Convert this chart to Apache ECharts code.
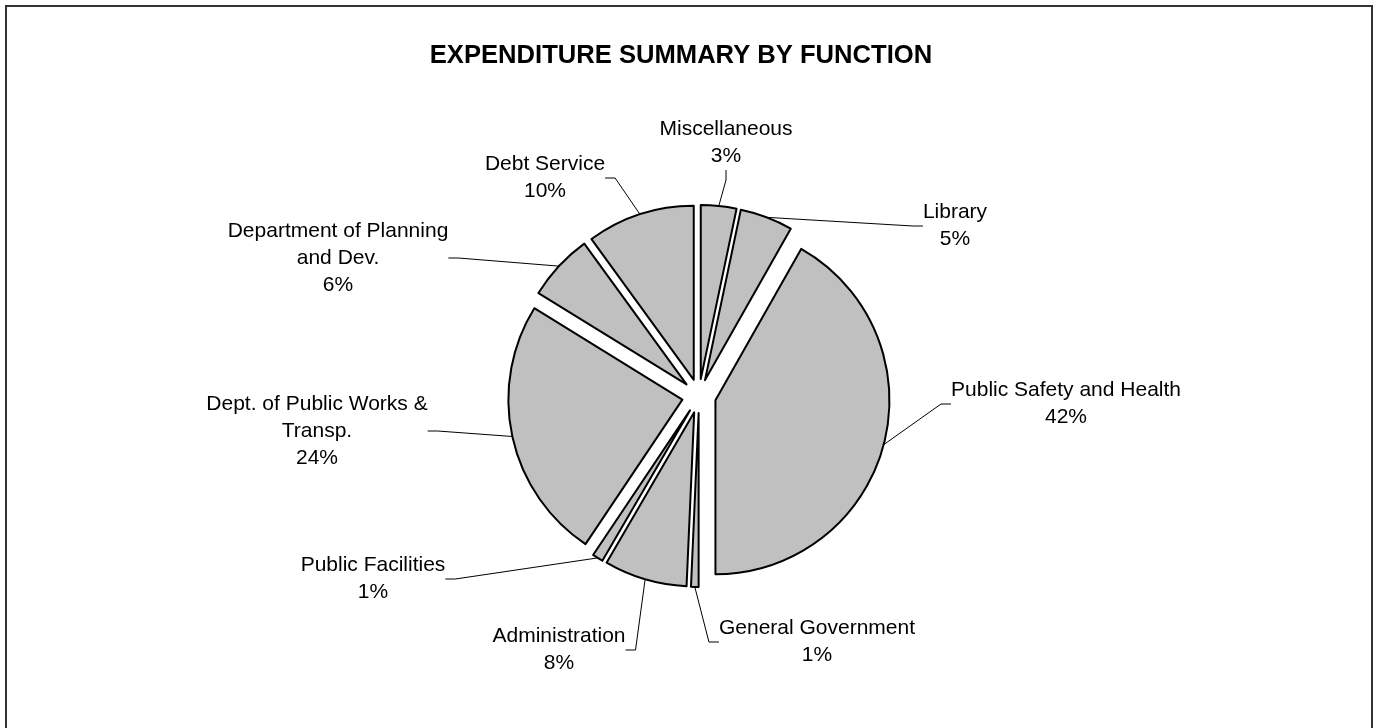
<!DOCTYPE html>
<html>
<head>
<meta charset="utf-8">
<script src="https://cdn.jsdelivr.net/npm/echarts@6/dist/echarts.min.js"></script>
<style>
html,body{margin:0;padding:0;background:#fff;}
#chart{width:1376px;height:728px;}
</style>
</head>
<body>
<div id="chart"></div>
<script>
// Data (clockwise from 12 o'clock)
const categories = [
  'Miscellaneous',
  'Library',
  'Public Safety and Health',
  'General Government',
  'Administration',
  'Public Facilities',
  'Dept. of Public Works &\nTransp.',
  'Department of Planning\nand Dev.',
  'Debt Service'
];
const values = [3.3, 4.9, 41.8, 0.7, 7.7, 1.0, 24.4, 6.2, 10.0];

// Label block centers (layout only)
const labelPos = [
  [726, 143], [955, 226], [1066, 404], [817, 642], [559, 650],
  [373, 579], [317, 431], [338, 258], [545, 178]
];

const CX = 699, CY = 396, R = 174, EXPLODE = 17;
const total = values.reduce((a, b) => a + b, 0);
const chart = echarts.init(document.getElementById('chart'), null, {renderer: 'canvas'});
const FONT = "'Liberation Sans', Arial, sans-serif";

// One pie series per exploded slice: identical layout, only slice i visible,
// shifted outward along its own bisector (Excel-style explosion).
const series = [];
let cum = 0;
values.forEach((v, i) => {
  const mid = (cum + v / 2) / total * 2 * Math.PI;
  cum += v;
  const center = [CX + EXPLODE * Math.sin(mid), CY - EXPLODE * Math.cos(mid)];
  series.push({
    type: 'pie',
    silent: true,
    center: center,
    radius: [0, R],
    startAngle: 90,
    clockwise: true,
    avoidLabelOverlap: false,
    emphasis: {disabled: true},
    label: {show: false},
    labelLine: {show: false},
    labelLayout: params => {
      if (params.dataIndex !== i) return {};
      const p = labelPos[i];
      return {x: p[0], y: p[1], align: 'center', verticalAlign: 'middle'};
    },
    data: categories.map((c, j) => j === i ? {
      name: c, value: values[j],
      itemStyle: {color: '#C0C0C0', borderColor: '#000', borderWidth: 2},
      label: {
        show: true,
        position: 'outside',
        fontFamily: FONT,
        fontSize: 21,
        lineHeight: 27,
        color: '#000',
        align: 'center',
        formatter: p => p.name + '\n' + Math.round(p.value / total * 100) + '%'
      },
      labelLine: {show: true, length: 20, length2: 10, smooth: false,
        lineStyle: {color: '#000', width: 1}}
    } : {
      name: c, value: values[j],
      itemStyle: {color: 'rgba(0,0,0,0)', borderWidth: 0},
      label: {show: false}, labelLine: {show: false}
    })
  });
});

chart.setOption({
  animation: false,
  backgroundColor: '#fff',
  title: {
    text: 'EXPENDITURE SUMMARY BY FUNCTION',
    left: 676,
    top: 38,
    textAlign: 'center',
    textStyle: {fontFamily: FONT, fontWeight: 'bold', fontSize: 25.6, color: '#000'}
  },
  graphic: [{
    type: 'rect',
    shape: {x: 6, y: 6, width: 1366, height: 730},
    style: {fill: 'none', stroke: '#333', lineWidth: 2},
    silent: true
  }],
  series: series
});
</script>
</body>
</html>
